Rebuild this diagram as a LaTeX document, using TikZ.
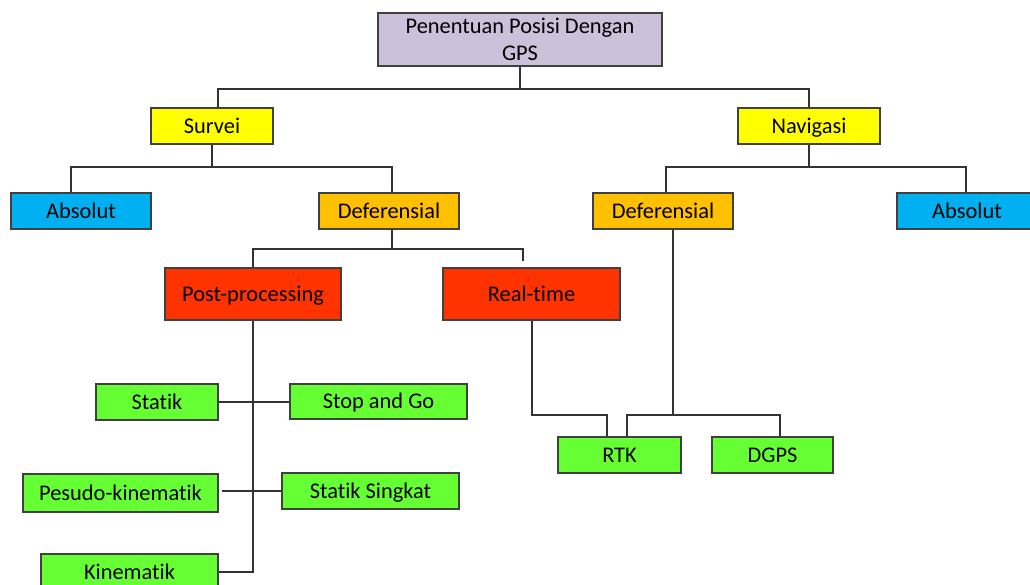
\documentclass[tikz,border=0pt]{standalone}
\usepackage{fontspec}
\setmainfont{Carlito}[RawFeature={-liga;-clig;-dlig}]
\definecolor{lav}{HTML}{CCC0DA}
\definecolor{yel}{HTML}{FFFF00}
\definecolor{blu}{HTML}{00B0F0}
\definecolor{ora}{HTML}{FFC000}
\definecolor{rd}{HTML}{FF3300}
\definecolor{grn}{HTML}{66FF33}
\definecolor{edge}{HTML}{404040}
\definecolor{wire}{HTML}{333333}
\begin{document}
\begin{tikzpicture}[x=1pt,y=-1pt,
  base/.style={draw=edge, line width=1.4pt, inner sep=0pt,
    font=\fontsize{22.4}{27}\selectfont, text=black},
  box/.style={base, text height=16pt, text depth=1.6pt},
  link/.style={draw=wire, line width=1.4pt}]
\useasboundingbox (0,0) rectangle (1030,585);
% nodes
\node[base, align=center, fill=lav, minimum width=284, minimum height=53] (root) at (520,39.5) {Penentuan Posisi Dengan\\GPS};
\node[box, fill=yel, minimum width=122, minimum height=36] (survei) at (212,126) {Survei};
\node[box, fill=yel, minimum width=142, minimum height=36] (navigasi) at (809,126) {Navigasi};
\node[box, fill=blu, minimum width=140, minimum height=36] (absL) at (81,211) {Absolut};
\node[box, fill=ora, minimum width=140, minimum height=36] (defL) at (389,211) {Deferensial};
\node[box, fill=ora, minimum width=140, minimum height=36] (defR) at (663,211) {Deferensial};
\node[box, fill=blu, minimum width=140, minimum height=36] (absR) at (967,211) {Absolut};
\node[box, fill=rd, minimum width=176, minimum height=52] (post) at (253,294) {Post-processing};
\node[box, fill=rd, minimum width=177, minimum height=52] (real) at (531.5,294) {Real-time};
\node[box, fill=grn, minimum width=122, minimum height=36] (statik) at (157,402) {Statik};
\node[box, fill=grn, minimum width=177, minimum height=35] (stop) at (378.5,401.5) {Stop and Go};
\node[box, fill=grn, minimum width=195, minimum height=38] (pesudo) at (120.5,493) {Pesudo-kinematik};
\node[box, fill=grn, minimum width=177, minimum height=36] (singkat) at (370.5,491) {Statik Singkat};
\node[box, fill=grn, minimum width=177, minimum height=36] (kinem) at (129.5,572) {Kinematik};
\node[box, fill=grn, minimum width=123, minimum height=36] (rtk) at (619.5,455) {RTK};
\node[box, fill=grn, minimum width=121, minimum height=36] (dgps) at (772.5,455) {DGPS};
% junction coordinates
\coordinate (r1) at (520,89);
\coordinate (s1) at (212,167);
\coordinate (n1) at (809,167);
\coordinate (d1) at (392,249);
\coordinate (t1) at (532,415);
\coordinate (e1) at (673,415);
% connectors
\draw[link] (root.south) -- (r1);
\draw[link] ([xshift=6]survei.north) |- (r1) -| (navigasi.north);
\draw[link] (survei.south) -- (s1);
\draw[link] ([xshift=-10]absL.north) |- (s1) -| ([xshift=3]defL.north);
\draw[link] (navigasi.south) -- (n1);
\draw[link] ([xshift=3]defR.north) |- (n1) -| ([xshift=-1]absR.north);
\draw[link] ([xshift=3]defL.south) -- (d1);
\draw[link, shorten >=6pt] (post.north) |- (d1) -| ([xshift=-8.5]real.north);
\draw[link] (post.south) |- (kinem.east);
\draw[link] (statik.east) -- (statik.east -| stop.west);
\draw[link] ([xshift=3]pesudo.east |- singkat.west) -- (singkat.west);
\draw[link] ([xshift=0.5]real.south) -- (t1) -| ([xshift=-12.5]rtk.north);
\draw[link] ([xshift=10]defR.south) -- (e1);
\draw[link] ([xshift=7.5]rtk.north) |- (e1) -| ([xshift=7.5]dgps.north);
\end{tikzpicture}
\end{document}
